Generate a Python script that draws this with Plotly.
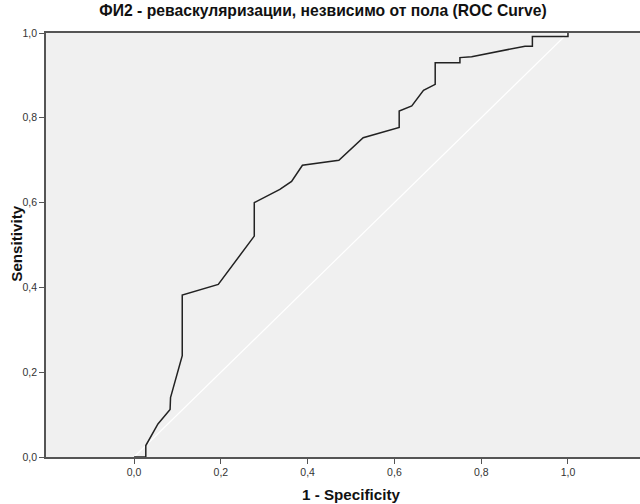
import plotly.graph_objects as go

# ROC curve points (1 - Specificity, Sensitivity)
fpr = [0.0, 0.027, 0.027, 0.041, 0.055, 0.083, 0.084, 0.111, 0.111, 0.194, 0.277, 0.277,
       0.306, 0.336, 0.363, 0.388, 0.472, 0.528, 0.611, 0.611, 0.640, 0.667, 0.694, 0.694,
       0.751, 0.751, 0.778, 0.901, 0.918, 0.918, 0.991, 1.0, 1.0]
tpr = [0.0, 0.0, 0.027, 0.053, 0.078, 0.112, 0.140, 0.239, 0.382, 0.407, 0.521, 0.600,
       0.615, 0.631, 0.650, 0.688, 0.700, 0.753, 0.777, 0.816, 0.828, 0.865, 0.879, 0.930,
       0.930, 0.942, 0.944, 0.969, 0.969, 0.992, 0.992, 0.992, 1.0]
ref_x = [0.0, 1.0]
ref_y = [0.0, 1.0]
tick_vals = [0.0, 0.2, 0.4, 0.6, 0.8, 1.0]

title_text = "ФИ2 - реваскуляризации, незвисимо от пола (ROC Curve)"
x_title = "1 - Specificity"
y_title = "Sensitivity"

fig = go.Figure()
fig.add_trace(go.Scatter(x=ref_x, y=ref_y, mode="lines",
                         line=dict(color="#ffffff", width=1.2), hoverinfo="skip"))
fig.add_trace(go.Scatter(x=fpr, y=tpr, mode="lines",
                         line=dict(color="#222222", width=1.5)))

fig.update_layout(
    width=640, height=504,
    margin=dict(l=46, r=0, t=33, b=47),
    paper_bgcolor="#ffffff",
    plot_bgcolor="#f0f0f0",
    showlegend=False,
    separators=", ",
    font=dict(family="Liberation Sans, Arial, sans-serif", color="#333333"),
    title=dict(text="<b>" + title_text + "</b>", x=323 / 640, xanchor="center",
               xref="container", y=1 - 10.5 / 504, yref="container", yanchor="middle",
               font=dict(size=15.7, color="#111111")),
    xaxis=dict(range=[-0.203, 1.166], tickvals=tick_vals, tickformat=".1f",
               showgrid=False, zeroline=False, showline=True, linecolor="#555555",
               linewidth=1.5, mirror=True, ticks="outside", ticklen=5, tickcolor="#555555",
               tickfont=dict(size=10.5, color="#333333")),
    yaxis=dict(range=[0, 1], tickvals=tick_vals, tickformat=".1f",
               showgrid=False, zeroline=False, showline=True, linecolor="#555555",
               linewidth=1.5, ticks="outside", ticklen=5, tickcolor="#555555",
               tickfont=dict(size=10.5, color="#333333")),
    annotations=[
        dict(text="<b>" + x_title + "</b>", xref="paper", yref="paper",
             x=(351 - 46) / 594, y=0, yshift=-37, xanchor="center", yanchor="middle",
             showarrow=False, font=dict(size=15.2, color="#111111")),
        dict(text="<b>" + y_title + "</b>", xref="paper", yref="paper",
             x=0, xshift=-29, y=(457.5 - 244) / 424.5, textangle=-90,
             xanchor="center", yanchor="middle",
             showarrow=False, font=dict(size=15.2, color="#111111")),
    ],
)

fig.write_html("out.html")
